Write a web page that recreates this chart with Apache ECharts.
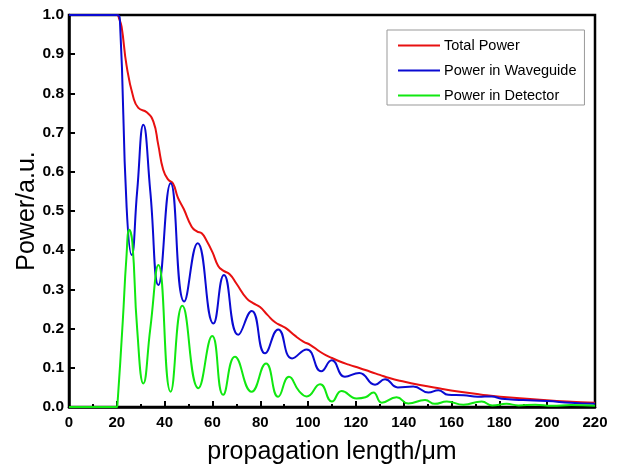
<!DOCTYPE html>
<html>
<head>
<meta charset="utf-8">
<script src="https://cdn.jsdelivr.net/npm/echarts@6/dist/echarts.min.js"></script>
<style>
  html, body { margin: 0; padding: 0; background: #fff; }
  #main { width: 619px; height: 468px; }
</style>
</head>
<body>
<div id="main"></div>
<script>
// [propagation length (um), power (a.u.)]
var totalPower = [
  [0, 1], [20, 1], [21, 0.99], [22, 0.97], [24.1, 0.87], [26.9, 0.79], [29, 0.763],
  [32.5, 0.752], [35.3, 0.728], [37.3, 0.67], [39.4, 0.605], [41.5, 0.58], [43.5, 0.57],
  [45.5, 0.535], [48, 0.505], [51.3, 0.46], [53.5, 0.448], [55.5, 0.443], [57.5, 0.425],
  [60, 0.395], [62.4, 0.36], [64.5, 0.348], [67.3, 0.338], [70, 0.315], [74.3, 0.277],
  [77, 0.265], [79.9, 0.255], [83, 0.235], [86.2, 0.216], [89, 0.207], [91, 0.2],
  [94.5, 0.182], [98, 0.167], [101, 0.158], [105, 0.141], [107.8, 0.131], [110, 0.125],
  [113.3, 0.116], [117, 0.108], [121.7, 0.099], [126, 0.09], [130, 0.082], [134, 0.074],
  [138.4, 0.067], [146.8, 0.056], [155.2, 0.047], [163.5, 0.039], [171.9, 0.032],
  [180.3, 0.026], [194.2, 0.02], [208.2, 0.014], [220, 0.011]
];

var waveguidePower = [
  [0, 1], [20, 1], [21.3, 0.985], [24.1, 0.51], [26.2, 0.388], [28.5, 0.55], [31.1, 0.72],
  [34, 0.55], [37.4, 0.311], [42.5, 0.571], [48.2, 0.269], [53.8, 0.418], [60.4, 0.213],
  [64.8, 0.337], [70.8, 0.184], [76.4, 0.245], [82, 0.137], [87.5, 0.198], [93.3, 0.124],
  [99.4, 0.147], [105.5, 0.091], [109.9, 0.119], [115.4, 0.077], [121.4, 0.087],
  [128, 0.057], [132.2, 0.071], [137.5, 0.05], [144, 0.052], [150.3, 0.037],
  [154.5, 0.043], [158.6, 0.031], [165, 0.03], [171, 0.026], [176.8, 0.027],
  [181, 0.021], [190, 0.018], [200, 0.015], [210, 0.011], [220, 0.008]
];

var detectorPower = [
  [0, 0], [20, 0], [20.3, 0.01], [22.5, 0.22], [24, 0.38], [25.2, 0.452], [26.5, 0.42],
  [28.5, 0.2], [31.1, 0.06], [34, 0.2], [37.4, 0.362], [42.5, 0.039], [47.4, 0.258],
  [54.1, 0.048], [59.9, 0.181], [64.5, 0.031], [69.4, 0.128], [76.4, 0.039], [82.4, 0.111],
  [87.5, 0.026], [92, 0.077], [96.3, 0.04], [99.4, 0.027], [105, 0.058], [110, 0.014],
  [114, 0.041], [120.3, 0.022], [124, 0.025], [127.3, 0.037], [130.8, 0.011], [137, 0.025],
  [141.9, 0.009], [148.9, 0.018], [153, 0.008], [158, 0.014], [165, 0.006], [172.6, 0.014],
  [177, 0.004], [183, 0.008], [188, 0.004], [195, 0.006], [202, 0.003], [210, 0.005],
  [220, 0.003]
];

var seriesNames = ['Total Power', 'Power in Waveguide', 'Power in Detector'];
var seriesColors = ['#e81010', '#0a0ad2', '#10e810'];

var font = 'Liberation Sans, Arial, sans-serif';

var myChart = echarts.init(document.getElementById('main'));
myChart.setOption({
  animation: false,
  backgroundColor: '#fff',
  grid: {
    left: 69, top: 15, right: 24, bottom: 61,
    outerBoundsMode: 'none',
    show: true, borderColor: '#000', borderWidth: 2.5, backgroundColor: 'transparent'
  },
  legend: {
    orient: 'vertical',
    left: 387, top: 30,
    width: 196,
    padding: [8, 8, 2, 10],
    itemWidth: 42, itemHeight: 16, itemGap: 10,
    itemStyle: { opacity: 0 },
    lineStyle: { width: 2 },
    backgroundColor: '#fff',
    borderColor: '#999', borderWidth: 1, borderRadius: 0,
    textStyle: { fontFamily: font, fontSize: 14.5, color: '#000', padding: [0, 0, 0, -1] },
    data: seriesNames
  },
  xAxis: {
    type: 'value',
    min: 0, max: 220, interval: 20,
    name: 'propagation length/μm',
    nameLocation: 'middle', nameGap: 33, nameMoveOverlap: false,
    nameTextStyle: { fontFamily: font, fontSize: 25, color: '#000' },
    axisLine: { lineStyle: { color: '#000', width: 2.5 } },
    axisTick: { inside: true, length: 6, lineStyle: { color: '#000', width: 2 } },
    minorTick: { show: true, splitNumber: 2, length: 3, lineStyle: { color: '#000', width: 2 } },
    splitLine: { show: false },
    axisLabel: { fontFamily: font, fontSize: 15, fontWeight: 'bold', color: '#000', margin: 8 }
  },
  yAxis: {
    type: 'value',
    min: 0, max: 1, interval: 0.1,
    name: 'Power/a.u.',
    nameLocation: 'middle', nameGap: 29, nameMoveOverlap: false,
    nameTextStyle: { fontFamily: font, fontSize: 25, color: '#000' },
    axisLine: { lineStyle: { color: '#000', width: 2.5 } },
    axisTick: { inside: true, length: 6, lineStyle: { color: '#000', width: 2 } },
    splitLine: { show: false },
    axisLabel: {
      fontFamily: font, fontSize: 15.5, fontWeight: 'bold', color: '#000', margin: 5,
      formatter: function (v) { return v.toFixed(1); }
    }
  },
  series: [
    { name: seriesNames[0], type: 'line', data: totalPower, smooth: 0.5, symbol: 'none',
      lineStyle: { color: seriesColors[0], width: 2 }, itemStyle: { color: seriesColors[0] } },
    { name: seriesNames[1], type: 'line', data: waveguidePower, smooth: 0.5, symbol: 'none',
      lineStyle: { color: seriesColors[1], width: 2 }, itemStyle: { color: seriesColors[1] } },
    { name: seriesNames[2], type: 'line', data: detectorPower, smooth: 0.5, symbol: 'none',
      lineStyle: { color: seriesColors[2], width: 2 }, itemStyle: { color: seriesColors[2] } }
  ]
});
</script>
</body>
</html>
